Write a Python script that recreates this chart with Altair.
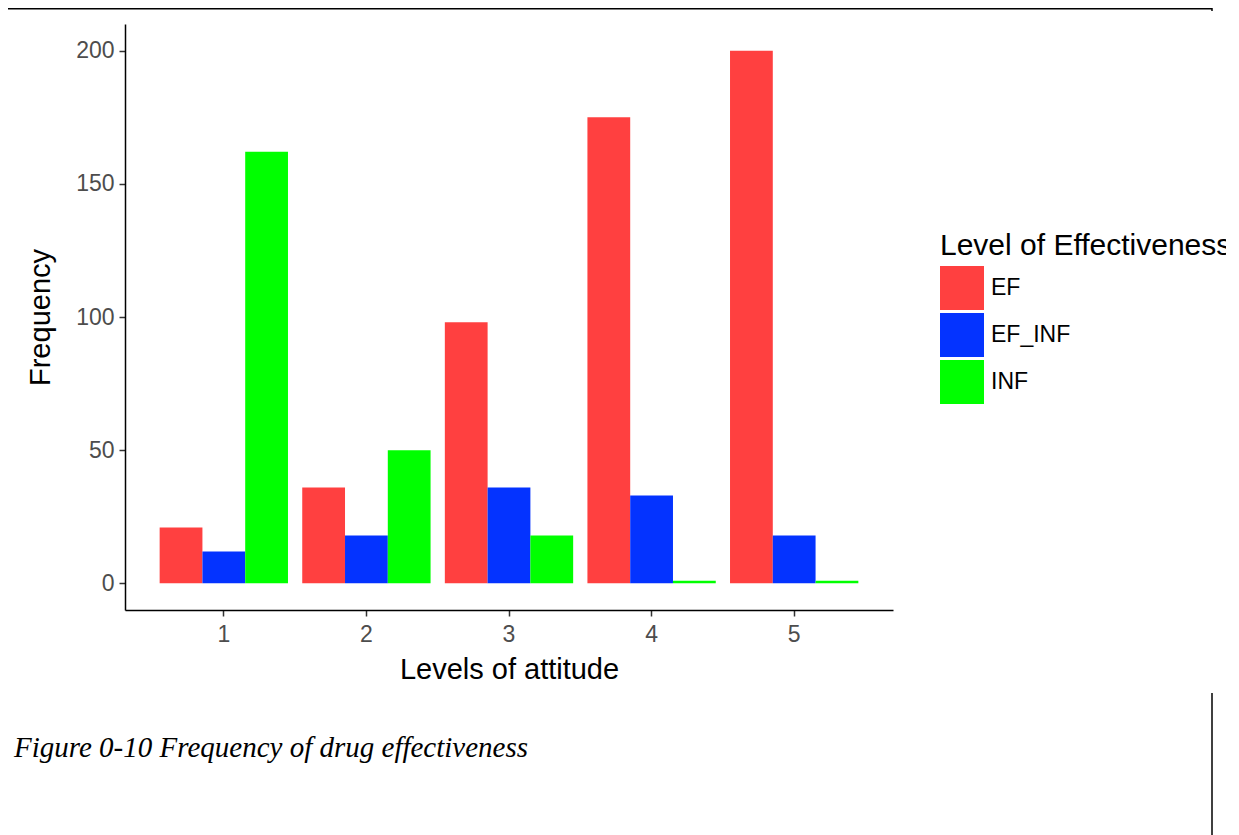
import altair as alt
import pandas as pd

levels = ["1", "2", "3", "4", "5"]
groups = ["EF", "EF_INF", "INF"]
ef = [21, 36, 98, 175, 200]
ef_inf = [12, 18, 36, 33, 18]
inf = [162, 50, 18, 1, 1]
colors = ["#FF4040", "#0433FF", "#00FF00"]
y_ticks = [0, 50, 100, 150, 200]
caption = "Figure 0-10 Frequency of drug effectiveness"

rows = []
for i, lv in enumerate(levels):
    for g, vals in zip(groups, [ef, ef_inf, inf]):
        rows.append({"level": lv, "group": g, "freq": vals[i]})
df = pd.DataFrame(rows)

W, H = 768, 586

bars = alt.Chart(df).mark_bar().encode(
    x=alt.X("level:N", title="Levels of attitude",
            scale=alt.Scale(paddingInner=0.1, paddingOuter=0.243),
            axis=alt.Axis(labelAngle=0)),
    xOffset=alt.XOffset("group:N", scale=alt.Scale(paddingInner=0, paddingOuter=0)),
    y=alt.Y("freq:Q", title="Frequency",
            scale=alt.Scale(domain=[-10, 210], nice=False, zero=False),
            axis=alt.Axis(values=y_ticks)),
    y2=alt.datum(0),
    color=alt.Color("group:N", title="Level of Effectiveness",
                    scale=alt.Scale(domain=groups, range=colors),
                    legend=alt.Legend(orient="none", legendX=815, legendY=207,
                                      symbolType="square", symbolSize=1936,
                                      symbolStrokeWidth=0, symbolOpacity=1,
                                      labelFontSize=23, titleFontSize=30,
                                      labelOffset=7, rowPadding=3, titlePadding=5,
                                      padding=0, titleLimit=1000,
                                      labelFont="Liberation Sans", titleFont="Liberation Sans",
                                      labelColor="#000000", titleColor="#000000",
                                      titleFontWeight="normal")),
)

deco = pd.DataFrame({"k": [0]})
top_line = alt.Chart(deco).mark_rule(color="black", strokeWidth=3).encode(
    x=alt.value(-117), x2=alt.value(1087), y=alt.value(-16))
right_top = alt.Chart(deco).mark_rule(color="black", strokeWidth=1.5).encode(
    x=alt.value(1087), y=alt.value(-16), y2=alt.value(-13))
right_bottom = alt.Chart(deco).mark_rule(color="black", strokeWidth=1.5).encode(
    x=alt.value(1087), y=alt.value(669), y2=alt.value(811))
cap = alt.Chart(deco).mark_text(font="Liberation Serif", fontStyle="italic",
                                fontSize=29, align="left", baseline="alphabetic",
                                color="black").encode(
    x=alt.value(-111), y=alt.value(733), text=alt.value(caption))

chart = alt.layer(bars, top_line, right_top, right_bottom, cap).properties(
    width=W, height=H,
    autosize=alt.AutoSizeParams(type="none"),
    padding={"left": 117, "top": 16, "right": 333, "bottom": 225},
).configure_view(stroke=None).configure_axis(
    grid=False, domainColor="black", domainWidth=1.5,
    tickColor="#333333", tickWidth=1.5, tickSize=6,
    labelFont="Liberation Sans", labelFontSize=23, labelColor="#4D4D4D",
    titleFont="Liberation Sans", titleFontSize=29, titleColor="black",
    titleFontWeight="normal",
).configure_axisX(labelPadding=7, titlePadding=9).configure_axisY(
    labelPadding=5, titlePadding=20)

chart.save("out.html", embed_options={"renderer": "svg", "actions": False})
